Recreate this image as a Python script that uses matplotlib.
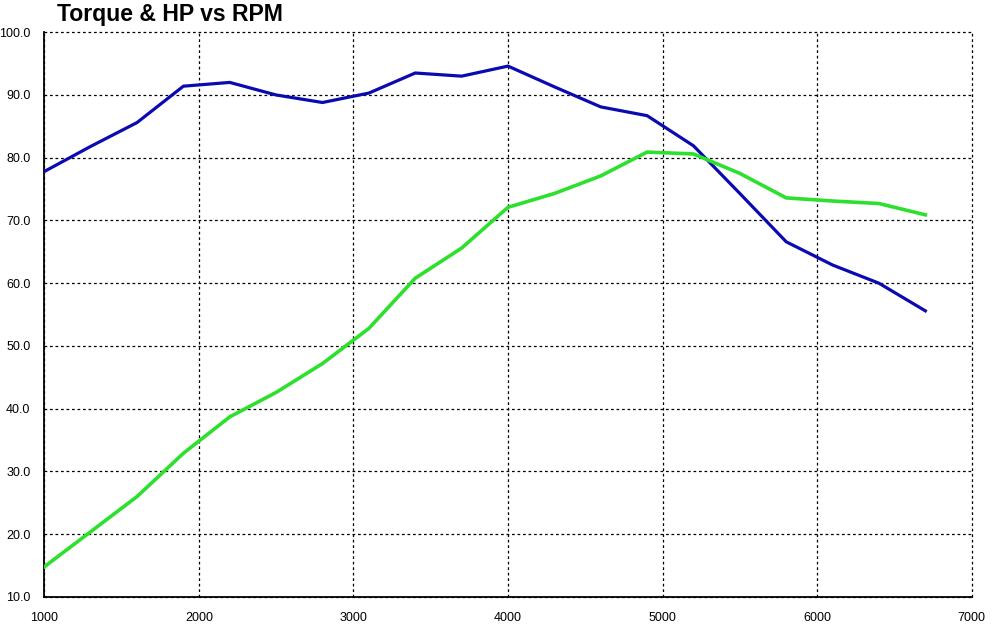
import matplotlib
matplotlib.use("Agg")
import matplotlib.pyplot as plt
from matplotlib.ticker import FuncFormatter

rpm = [1000, 1300, 1600, 1900, 2200, 2500, 2800, 3100, 3400, 3700,
       4000, 4300, 4600, 4900, 5200, 5500, 5800, 6100, 6400, 6700]
torque = [77.8, 81.8, 85.6, 91.4, 92.0, 90.0, 88.8, 90.3, 93.5, 93.0,
          94.6, 91.3, 88.1, 86.7, 81.9, 74.3, 66.6, 62.9, 60.0, 55.6]
hp = [14.8, 20.4, 26.0, 32.9, 38.7, 42.6, 47.2, 52.8, 60.8, 65.6,
      72.1, 74.3, 77.1, 80.9, 80.6, 77.5, 73.6, 73.1, 72.7, 70.9]
x_ticks = [1000, 2000, 3000, 4000, 5000, 6000, 7000]
y_ticks = [10, 20, 30, 40, 50, 60, 70, 80, 90, 100]
title = "Torque & HP vs RPM"

plt.rcParams['font.family'] = ['Liberation Sans', 'DejaVu Sans']

fig = plt.figure(figsize=(9.99, 6.33), dpi=100)
ax = fig.add_axes([0.0443, 0.0569, 0.9284, 0.8922])

ax.plot(rpm, torque, color='#0A0AB0', linewidth=2.3, solid_joinstyle='miter', zorder=3)
ax.plot(rpm, hp, color='#2EE02E', linewidth=2.6, solid_joinstyle='miter', zorder=3)

ax.set_xlim(1000, 7000)
ax.set_ylim(10, 100)
ax.set_xticks(x_ticks)
ax.set_yticks(y_ticks)
ax.yaxis.set_major_formatter(FuncFormatter(lambda v, p: f"{v:.1f}"))
ax.xaxis.set_major_formatter(FuncFormatter(lambda v, p: f"{int(v)}"))
ax.tick_params(axis='both', length=0, labelsize=9, colors='black')
ax.tick_params(axis='x', pad=11)
ax.tick_params(axis='y', pad=10)

ax.grid(True, color='black', linestyle=(0, (2.2, 2.2)), linewidth=0.9)
ax.set_axisbelow(True)
for gl in ax.get_xgridlines() + ax.get_ygridlines():
    gl.set_clip_on(False)
for s in ['top', 'right']:
    ax.spines[s].set_visible(False)
for s in ['left', 'bottom']:
    ax.spines[s].set_color('black')
    ax.spines[s].set_linewidth(1.3)
    ax.spines[s].set_zorder(2.5)

fig.text(0.057, 0.977, title, fontsize=16.6, fontweight='bold', ha='left', va='center')

fig.savefig('out.png', dpi=100)
